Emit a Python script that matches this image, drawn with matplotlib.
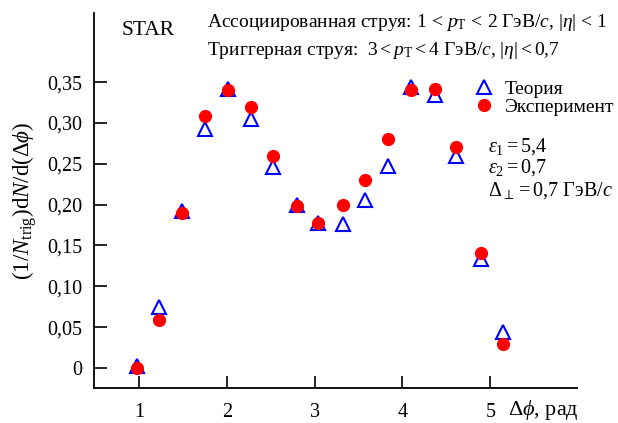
import matplotlib
matplotlib.use("Agg")
import matplotlib.pyplot as plt

plt.rcParams['font.family'] = ['Liberation Serif', 'DejaVu Serif']
plt.rcParams['mathtext.fontset'] = 'custom'
plt.rcParams['mathtext.rm'] = 'Liberation Serif'
plt.rcParams['mathtext.it'] = 'Liberation Serif:italic'
plt.rcParams['mathtext.bf'] = 'Liberation Serif:bold'
plt.rcParams['mathtext.fallback'] = 'stix'

dphi = [0.974, 1.231, 1.486, 1.752, 2.017, 2.276, 2.530, 2.803, 3.042, 3.319,
        3.578, 3.840, 4.094, 4.367, 4.614, 4.891, 5.145]
theory = [0.002, 0.075, 0.192, 0.292, 0.342, 0.305, 0.246, 0.200, 0.178, 0.176,
          0.206, 0.247, 0.344, 0.334, 0.260, 0.133, 0.044]
experiment = [0.0, 0.059, 0.190, 0.309, 0.340, 0.319, 0.260, 0.198, 0.177, 0.199,
              0.230, 0.280, 0.340, 0.341, 0.270, 0.141, 0.030]

xticks = [1, 2, 3, 4, 5]
yticks = [0, 0.05, 0.10, 0.15, 0.20, 0.25, 0.30, 0.35]
ytick_labels = ['0', '0,05', '0,10', '0,15', '0,20', '0,25', '0,30', '0,35']

fig = plt.figure(figsize=(6.18, 4.23), dpi=100)
ax = fig.add_axes([0.1516, 0.0827, 0.934 - 0.1516, 0.970 - 0.0827])

ax.plot(dphi, theory, linestyle='none', marker='^', markersize=9.5,
        markerfacecolor='none', markeredgecolor='#0000ff', markeredgewidth=1.5,
        label='Теория', zorder=2)
ax.plot(dphi, experiment, linestyle='none', marker='o', markersize=8.5,
        markerfacecolor='#ff0000', markeredgecolor='#ff0000',
        label='Эксперимент', zorder=3)

ax.set_xlim(0.484, 5.99)
ax.set_ylim(-0.0245, 0.435)
ax.set_xticks(xticks)
ax.set_xticklabels([str(t) for t in xticks])
ax.set_yticks(yticks)
ax.set_yticklabels(ytick_labels)
ax.tick_params(direction='in', length=9, width=1.2, labelsize=14.5)
ax.tick_params(axis='y', pad=8)
ax.tick_params(axis='x', pad=11)
for s in ['top', 'right']:
    ax.spines[s].set_visible(False)
for s in ['left', 'bottom']:
    ax.spines[s].set_linewidth(1.3)

ax.set_ylabel(r'$(1/N_{\mathrm{trig}})\mathrm{d}N/\mathrm{d}(\Delta\phi)$', fontsize=16.5, labelpad=6)
fig.text(0.822, 0.018, r'$\Delta\phi$, рад', fontsize=16, ha='left', va='baseline')

fig.text(0.197, 0.917, 'STAR', fontsize=15.5, ha='left', va='baseline')
fig.text(0.335, 0.936, r'Ассоциированная струя: $1\,<\,p_{\mathrm{T}}\,<\,2$ ГэВ$/c$, $|\eta|\,<\,1$',
         fontsize=14, ha='left', va='baseline')
fig.text(0.335, 0.870, r'Триггерная струя:  $3 < p_{\mathrm{T}} < 4$ ГэВ$/c$, $|\eta| < 0{,}7$',
         fontsize=14, ha='left', va='baseline')

leg = ax.legend(loc='upper left', bbox_to_anchor=(0.770, 0.811), bbox_transform=fig.transFigure,
                frameon=False, fontsize=14, handlelength=0.8, handletextpad=0.68,
                labelspacing=0.05, borderpad=0, borderaxespad=0)

fig.text(0.790, 0.641, r'$\varepsilon_1 = 5{,}4$', fontsize=14.5, ha='left', va='baseline')
fig.text(0.790, 0.593, r'$\varepsilon_2 = 0{,}7$', fontsize=14.5, ha='left', va='baseline')
fig.text(0.790, 0.537, r'$\Delta_\perp = 0{,}7$ ГэВ$/c$', fontsize=14.5, ha='left', va='baseline')

fig.savefig('out.png', dpi=100)
